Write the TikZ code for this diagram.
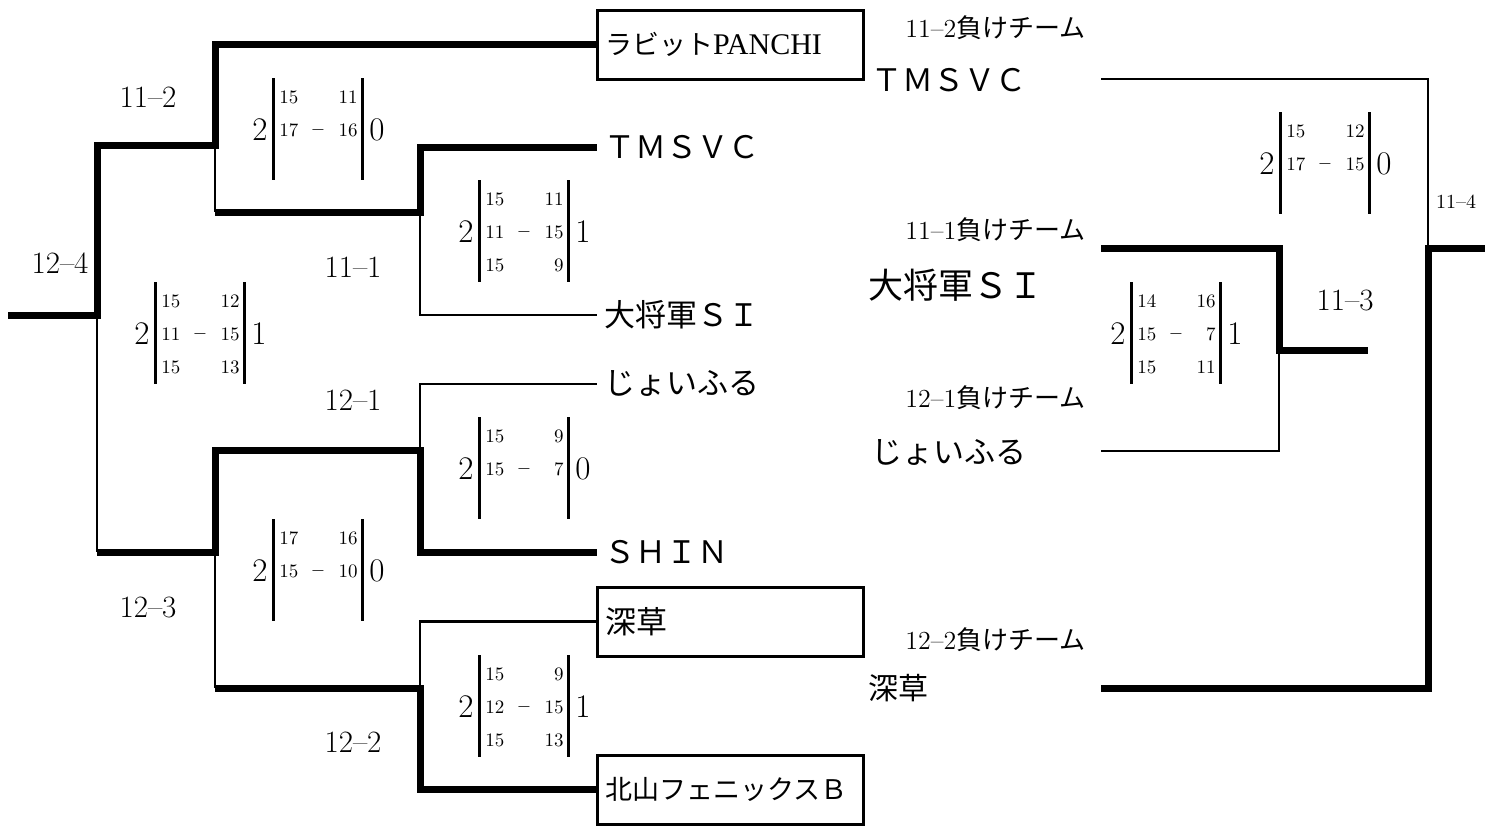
\documentclass[tikz,border=0pt]{standalone}
\usepackage{fontspec}
\newfontfamily\jp{Noto Sans CJK JP}
\newfontfamily\tnr{Liberation Serif}
\tikzset{
  thk/.style={line width=3.5pt},
  thn/.style={line width=1.25pt},
  setbar/.style={line width=1.5pt},
  lbl/.style={font=\fontsize{15.5}{18}\selectfont, inner sep=0pt},
  smlbl/.style={font=\fontsize{10}{12}\selectfont, inner sep=0pt},
  bignum/.style={font=\fontsize{16.5}{19}\selectfont, inner sep=0pt},
  setnum/.style={font=\fontsize{9.5}{11}\selectfont, inner sep=0pt},
  team/.style={font=\jp\fontsize{15.5}{18}\selectfont, anchor=west, inner xsep=3.5pt, inner ysep=0pt},
  teambox/.style={draw, line width=1.5pt, minimum height=34.5pt, text width=125pt,
                  inner xsep=4pt, inner ysep=0pt, align=left},
  losehead/.style={font=\jp\fontsize{13}{15}\selectfont, anchor=west, inner sep=0pt},
  rteam/.style={font=\jp\fontsize{15.5}{18}\selectfont, anchor=west, inner sep=0pt},
}
\newcommand\sblk[6]{%
  \draw[setbar] (#2,#3) -- (#2,#3+102);
  \draw[setbar] (#2+89,#3) -- (#2+89,#3+102);
  \node[bignum, anchor=east] (#1w) at (#2-5,#3+52) {#4};
  \node[bignum, anchor=west] (#1l) at (#2+96,#3+52) {#5};
  \node[setnum] (#1d) at (#2+45,#3+52) {$-$};
  \foreach \sa/\sb [count=\k] in {#6} {
    \node[setnum, anchor=west] (#1a\k) at (#2+6,{#3+19+(\k-1)*33}) {\sa};
    \node[setnum, anchor=east] (#1b\k) at (#2+85,{#3+19+(\k-1)*33}) {\sb};
  }
}
\begin{document}
\begin{tikzpicture}[x=0.5pt,y=-0.5pt]
\useasboundingbox (0,0) rectangle (1491,825);

% ---------- team nodes (left) ----------
\node[teambox, font=\jp\fontsize{13.5}{16}\selectfont] (rabbit) at (730,44.5) {ラビット{\tnr\fontsize{15}{17}\selectfont PANCHI}};
\node[team] (tms) at (597,147) {ＴＭＳＶＣ};
\node[team] (dai) at (597,315) {大将軍ＳＩ};
\node[team] (joy) at (597,384) {じょいふる};
\node[team] (shin) at (597,552) {ＳＨＩＮ};
\node[teambox, font=\jp\fontsize{15.5}{18}\selectfont] (fuka) at (730,621.5) {深草};
\node[teambox, font=\jp\fontsize{13.5}{16}\selectfont] (kita) at (730,789.5) {北山フェニックスＢ};

% ---------- junctions (left) ----------
\coordinate (root) at (8,315);
\coordinate (j124) at (97,315);
\coordinate (j124b) at (97,552);
\coordinate (j112) at (215,145);
\coordinate (j112b) at (215,212);
\coordinate (j111) at (420,212);
\coordinate (j123) at (215,552);
\coordinate (j123b) at (215,688);
\coordinate (j121) at (420,450);
\coordinate (j122) at (420,688);

\draw[thk] (root) -- (j124) |- (j112) |- (rabbit.west);
\draw[thn] (j112) -- (j112b);
\draw[thk] (j112b) -- (j111) |- (tms.west);
\draw[thn] (j111) |- (dai.west);
\draw[thn] (j124) -- (j124b);
\draw[thk] (j124b) -- (j123) |- (j121) |- (shin.west);
\draw[thn] (j121) |- (joy.west);
\draw[thn] (j123) -- (j123b);
\draw[thk] (j123b) -- (j122) |- (kita.west);
\draw[thn] (j122) |- (fuka.west);

% ---------- round labels ----------
\node[lbl] (l112) at (148,97) {11--2};
\node[lbl] (l124) at (60,263) {12--4};
\node[lbl] (l111) at (353,267) {11--1};
\node[lbl] (l121) at (353,400) {12--1};
\node[lbl] (l123) at (148,607) {12--3};
\node[lbl] (l122) at (353,742) {12--2};
\node[lbl] (l113) at (1345,300) {11--3};
\node[smlbl] (l114) at (1456,202) {11--4};

% ---------- scores ----------
\sblk{s112}{273}{78}{2}{0}{15/11, 17/16}
\sblk{s124}{155}{282}{2}{1}{15/12, 11/15, 15/13}
\sblk{s111}{479}{180}{2}{1}{15/11, 11/15, 15/9}
\sblk{s121}{479}{417}{2}{0}{15/9, 15/7}
\sblk{s123}{273}{519}{2}{0}{17/16, 15/10}
\sblk{s122}{479}{655}{2}{1}{15/9, 12/15, 15/13}
\sblk{s114}{1280}{112}{2}{0}{15/12, 17/15}
\sblk{s113}{1131}{282}{2}{1}{14/16, 15/7, 15/11}

% ---------- right side ----------
\node[losehead] (h1) at (905,28) {{\rmfamily 11--2}負けチーム};
\node[losehead] (h2) at (905,230) {{\rmfamily 11--1}負けチーム};
\node[losehead] (h3) at (905,398) {{\rmfamily 12--1}負けチーム};
\node[losehead] (h4) at (905,640) {{\rmfamily 12--2}負けチーム};
\node[rteam] (rt1) at (871,80) {ＴＭＳＶＣ};
\node[rteam, font=\jp\fontsize{17.5}{20}\selectfont] (rt2) at (868,285) {大将軍ＳＩ};
\node[rteam] (rt3) at (871,452) {じょいふる};
\node[rteam, font=\jp\fontsize{15}{18}\selectfont] (rt4) at (868,688) {深草};

\coordinate (r1) at (1101,79);
\coordinate (r2) at (1101,248);
\coordinate (r3) at (1101,451);
\coordinate (r4) at (1101,688);
\coordinate (j114) at (1428,248);
\coordinate (o114) at (1485,248);
\coordinate (j113) at (1279,350);
\coordinate (o113) at (1368,350);

\draw[thn] (r1) -| (j114);
\draw[thk] (r4) -| (j114) -- (o114);
\draw[thk] (r2) -| (j113) -- (o113);
\draw[thn] (r3) -| (j113);
\end{tikzpicture}
\end{document}
